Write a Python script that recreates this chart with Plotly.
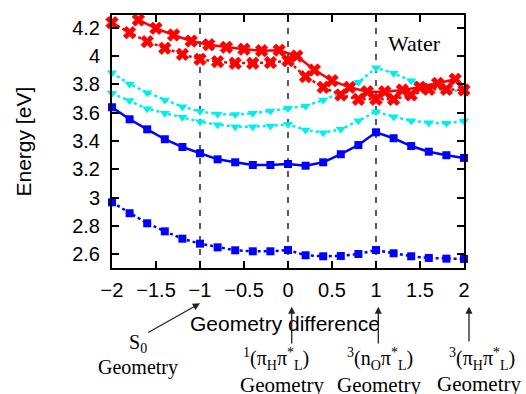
import plotly.graph_objects as go

# ---- data ----
x_grid = [-2.0, -1.8, -1.6, -1.4, -1.2, -1.0, -0.8, -0.6, -0.4, -0.2, 0.0,
          0.2, 0.4, 0.6, 0.8, 1.0, 1.2, 1.4, 1.6, 1.8, 2.0]
x_mid = [-1.7, -1.5, -1.3, -1.1, -0.9, -0.7, -0.5, -0.3, -0.1,
         0.1, 0.3, 0.5, 0.7, 0.9, 1.1, 1.3, 1.5, 1.7, 1.9]

red_solid = [4.256, 4.197, 4.150, 4.107, 4.081, 4.063, 4.049, 4.039, 4.042,
             4.001, 3.902, 3.827, 3.780, 3.749, 3.749, 3.761, 3.780, 3.808, 3.837]
red_dotted = [4.237, 4.166, 4.103, 4.056, 4.013, 3.978, 3.961, 3.950, 3.950, 3.955, 3.968,
              3.855, 3.780, 3.726, 3.695, 3.695, 3.695, 3.726, 3.766, 3.766, 3.761]
cyan_upper = [3.883, 3.803, 3.742, 3.690, 3.643, 3.610, 3.591, 3.587, 3.597, 3.613, 3.632,
              3.648, 3.690, 3.740, 3.815, 3.918, 3.880, 3.826, 3.793, 3.761, 3.752]
cyan_lower = [3.738, 3.686, 3.629, 3.597, 3.568, 3.537, 3.516, 3.502, 3.502, 3.507, 3.519,
              3.478, 3.459, 3.483, 3.544, 3.608, 3.572, 3.544, 3.530, 3.526, 3.542]
blue_solid = [3.639, 3.554, 3.483, 3.413, 3.358, 3.314, 3.271, 3.250, 3.231, 3.231, 3.238,
              3.226, 3.250, 3.307, 3.372, 3.462, 3.420, 3.365, 3.325, 3.300, 3.281]
blue_dotted = [2.967, 2.890, 2.819, 2.762, 2.710, 2.675, 2.649, 2.628, 2.621, 2.621, 2.630,
               2.593, 2.586, 2.588, 2.602, 2.630, 2.607, 2.586, 2.574, 2.569, 2.567]

x_ticks = [-2, -1.5, -1, -0.5, 0, 0.5, 1, 1.5, 2]
y_ticks = [2.6, 2.8, 3.0, 3.2, 3.4, 3.6, 3.8, 4.0, 4.2]
geom_lines = [-1, 0, 1]

# ---- layout constants ----
W, H = 526, 394
L, R, T, B = 112, 464, 15, 268
SANS = "Liberation Sans, Arial, sans-serif"
SERIF = "Liberation Serif, Times New Roman, serif"

def px(x, y):
    return ((x - L) / (R - L), (B - y) / (B - T))

fig = go.Figure()

def add(xs, ys, color, dash, symbol, size, width, lw=0):
    fig.add_trace(go.Scatter(
        x=xs, y=ys, mode="lines+markers", cliponaxis=False,
        line=dict(color=color, dash=dash, width=width),
        marker=dict(symbol=symbol, size=size, color=color,
                    line=dict(color=color, width=lw)),
        showlegend=False))

add(x_grid, blue_dotted, "#0000FF", "dot", "square", 8, 2.5)
add(x_grid, blue_solid, "#0000FF", "solid", "square", 8, 2.5)
add(x_grid, cyan_lower, "#00EEEE", "dot", "triangle-down", 9, 2.5)
add(x_grid, cyan_upper, "#00EEEE", "dot", "triangle-down", 9, 2.5)
add(x_grid, red_dotted, "#FF0000", "dot", "x", 11, 2.5, 0.8)
add(x_mid, red_solid, "#FF0000", "solid", "x", 11, 2.5, 0.8)

for gx in geom_lines:
    fig.add_shape(type="line", xref="x", yref="paper", x0=gx, x1=gx, y0=0, y1=1,
                  line=dict(color="black", width=1.3, dash="6px,7px"), layer="below")

axis_common = dict(showline=True, linecolor="black", linewidth=2, mirror="ticks",
                   ticks="inside", ticklen=7, tickwidth=1.5, tickcolor="black",
                   showgrid=False, zeroline=False,
                   tickfont=dict(family=SANS, size=20, color="black"))

fig.update_xaxes(range=[-2, 2], tickvals=x_ticks,
                 ticktext=[("−" if v < 0 else "") + (f"{abs(v):g}") for v in x_ticks],
                 ticklabelstandoff=3, **axis_common)
fig.update_yaxes(range=[2.503, 4.291], tickvals=y_ticks,
                 ticktext=[f"{v:g}" for v in y_ticks],
                 ticklabelstandoff=6, **axis_common)

ann = []
def text(x, y, t, family, size, angle=0):
    px_, py_ = px(x, y)
    ann.append(dict(x=px_, y=py_, xref="paper", yref="paper", text=t, showarrow=False,
                    xanchor="center", yanchor="middle", textangle=angle,
                    font=dict(family=family, size=size, color="black")))

def arrow(tail, tip):
    tx, ty = px(*tip)
    ann.append(dict(x=tx, y=ty, xref="paper", yref="paper", text="",
                    showarrow=True, ax=tail[0] - tip[0], ay=tail[1] - tip[1],
                    axref="pixel", ayref="pixel", arrowhead=2, arrowsize=1.1,
                    arrowwidth=1.3, arrowcolor="#222222", standoff=0, startstandoff=0))

text(23, 141.5, "Energy [eV]", SANS, 21, -90)
text(285, 323, "Geometry difference", SANS, 21)
text(414, 43, "Water", SERIF, 22)

text(138, 343, "S<sub>0</sub>", SERIF, 20)
text(138, 367, "Geometry", SERIF, 20)
text(276, 359, "<sup>1</sup>(π<sub>H</sub>π<sup>*</sup><sub>L</sub>)", SERIF, 20)
text(282, 385, "Geometry", SERIF, 21)
text(380, 359, "<sup>3</sup>(n<sub>O</sub>π<sup>*</sup><sub>L</sub>)", SERIF, 20)
text(379, 385, "Geometry", SERIF, 21)
text(482, 359, "<sup>3</sup>(π<sub>H</sub>π<sup>*</sup><sub>L</sub>)", SERIF, 20)
text(479, 384, "Geometry", SERIF, 21)

arrow((146.7, 333.3), (200, 303.3))
arrow((291.7, 345), (291.7, 306.7))
arrow((378.3, 345), (378.3, 306.7))
arrow((469, 343), (469, 306.7))

fig.update_layout(width=W, height=H, autosize=False,
                  margin=dict(l=L, r=W - R, t=T, b=H - B, pad=0),
                  paper_bgcolor="white", plot_bgcolor="white",
                  annotations=ann)

fig.write_html("out.html")
